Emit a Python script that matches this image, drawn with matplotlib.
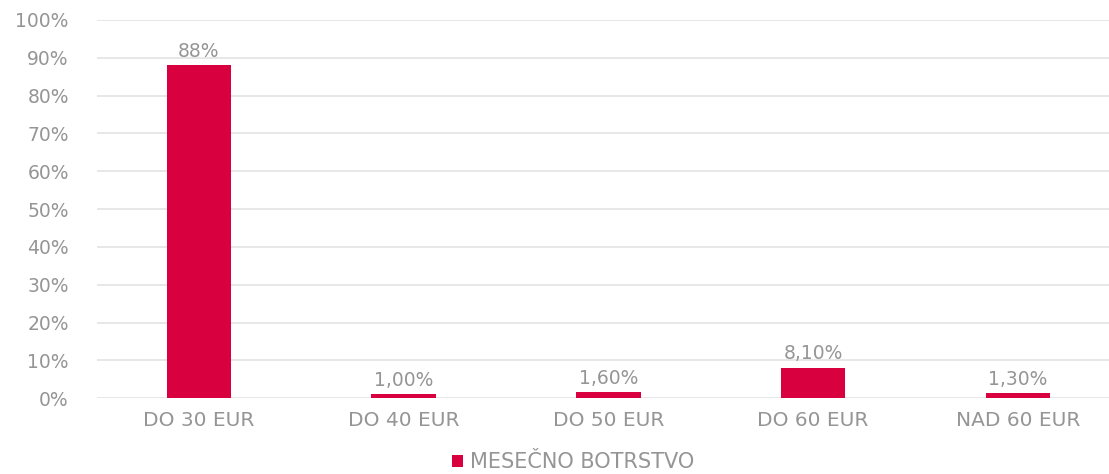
import matplotlib
matplotlib.use("Agg")
import matplotlib.pyplot as plt
from matplotlib.patches import Patch
from matplotlib.ticker import MultipleLocator, FuncFormatter

categories = ["DO 30 EUR", "DO 40 EUR", "DO 50 EUR", "DO 60 EUR", "NAD 60 EUR"]
values = [0.88, 0.01, 0.016, 0.081, 0.013]
value_labels = ["88%", "1,00%", "1,60%", "8,10%", "1,30%"]
series_name = "MESEČNO BOTRSTVO"

bar_color = "#D9003F"
text_color = "#959595"
grid_color = "#E3E3E3"

plt.rcParams["font.family"] = ["DejaVu Sans"]

fig = plt.figure(figsize=(11.09, 4.74), dpi=100)
ax = fig.add_axes([0.0871, 0.160, 0.923, 0.798])

x = list(range(len(categories)))
bars = ax.bar(x, values, width=0.315, color=bar_color, zorder=3)

ax.set_xlim(-0.5, len(categories) - 0.5)
ax.set_ylim(0, 1.0)
ax.yaxis.set_major_locator(MultipleLocator(0.1))
ax.yaxis.set_major_formatter(FuncFormatter(lambda v, p: f"{int(round(v * 100))}%"))
ax.grid(axis="y", color=grid_color, linewidth=1.2, zorder=0)
ax.set_axisbelow(True)
for s in ax.spines.values():
    s.set_visible(False)
ax.tick_params(axis="both", length=0, colors=text_color)
ax.tick_params(axis="y", labelsize=13.5, pad=20)
ax.tick_params(axis="x", labelsize=14.5, pad=9)
ax.set_xticks(x)
ax.set_xticklabels(categories)

for xi, v, lab in zip(x, values, value_labels):
    ax.annotate(lab, (xi, v), xytext=(0, 3), textcoords="offset points",
                ha="center", va="bottom", fontsize=13.5, color=text_color)

handle = Patch(facecolor=bar_color, edgecolor="none")
fig.legend([handle], [series_name], loc="center", bbox_to_anchor=(0.517, 0.025),
           frameon=False, fontsize=15, labelcolor=text_color,
           handlelength=0.5, handleheight=0.5, handletextpad=0.35)

fig.savefig("out.png", dpi=100)
